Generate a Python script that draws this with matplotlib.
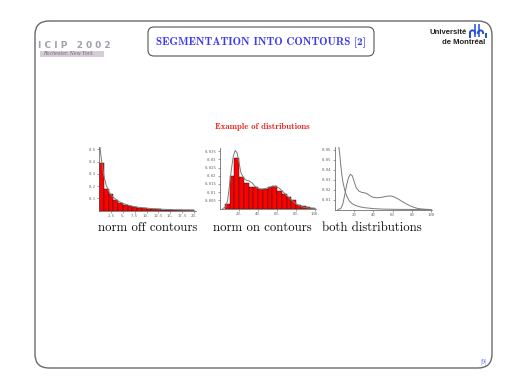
import numpy as np
import matplotlib
matplotlib.use("Agg")
import matplotlib.pyplot as plt
from matplotlib.patches import FancyBboxPatch, Rectangle

# --- data ---
off_edges = list(range(0, 21))
off_heights = [0.39, 0.175, 0.133, 0.09, 0.065, 0.048, 0.036, 0.03, 0.024, 0.02,
               0.016, 0.013, 0.01, 0.008, 0.007, 0.005, 0.004, 0.003, 0.003, 0.002]
off_curve_x = [0.2, 0.5, 1, 1.5, 2, 2.5, 3, 4, 5, 6, 7, 8, 9, 10, 12, 14, 16, 18, 20]
off_curve_y = [0.52, 0.42, 0.29, 0.21, 0.16, 0.13, 0.108, 0.078, 0.058, 0.045,
               0.035, 0.028, 0.023, 0.019, 0.013, 0.009, 0.006, 0.004, 0.003]

on_edges = list(range(5, 101, 5))
on_heights = [0.003, 0.0198, 0.031, 0.0195, 0.0155, 0.013, 0.013, 0.012, 0.0117, 0.013,
              0.0136, 0.011, 0.0086, 0.007, 0.0049, 0.0024, 0.0014, 0.0008, 0.0004]
on_curve_x = [3, 6, 8, 10, 12, 14, 16, 18, 20, 22, 25, 28, 31, 34, 37, 40, 44, 48,
              52, 56, 59, 62, 66, 70, 74, 78, 82, 86, 90, 95, 100]
on_curve_y = [0.0, 0.001, 0.005, 0.014, 0.024, 0.032, 0.0355, 0.034, 0.028, 0.022,
              0.0185, 0.0172, 0.0168, 0.0155, 0.0135, 0.0122, 0.0118, 0.0122, 0.013,
              0.0136, 0.0135, 0.0125, 0.0105, 0.008, 0.0058, 0.0038, 0.0022, 0.0011,
              0.0005, 0.0002, 0.0]

both_off_x = [2.5, 4, 5, 6, 7, 8, 10, 12, 15, 18, 22, 26, 30, 40, 50, 70, 100]
both_off_y = [0.07, 0.063, 0.055, 0.045, 0.036, 0.029, 0.02, 0.014, 0.0085, 0.0058,
              0.0038, 0.0027, 0.0019, 0.0009, 0.0004, 0.0001, 0.0]

off_xticks = [2.5, 5, 7.5, 10, 12.5, 15, 17.5, 20]
off_xlabels = ['2.5', '5.', '7.5', '10.', '12.5', '15.', '17.5', '20.']
off_yticks = [0.1, 0.2, 0.3, 0.4, 0.5]
off_ylabels = ['0.1', '0.2', '0.3', '0.4', '0.5']
on_xticks = [20, 40, 60, 80, 100]
on_xlabels = ['20.', '40.', '60.', '80.', '100.']
on_yticks = [0.005, 0.01, 0.015, 0.02, 0.025, 0.03, 0.035]
on_ylabels = ['0.005', '0.01', '0.015', '0.02', '0.025', '0.03', '0.035']
both_xticks = [20, 40, 60, 80, 100]
both_xlabels = ['20', '40', '60', '80', '100']
both_yticks = [0.01, 0.02, 0.03, 0.04, 0.05, 0.06]
both_ylabels = ['0.01', '0.02', '0.03', '0.04', '0.05', '0.06']

captions = ['norm off contours', 'norm on contours', 'both distributions']

W, H = 525, 390
fig = plt.figure(figsize=(W / 100, H / 100), dpi=100)

# slide decorations in pixel coordinates
bg = fig.add_axes([0, 0, 1, 1])
bg.set_xlim(0, W)
bg.set_ylim(H, 0)
bg.axis('off')
bg.add_patch(FancyBboxPatch((35 + 14, 21 + 14), 457 - 28, 347 - 28,
                            boxstyle="round,pad=14", fc='none', ec='#6a6a6a', lw=1.0))
bg.add_patch(FancyBboxPatch((148 + 6, 27 + 6), 226 - 12, 29 - 12,
                            boxstyle="round,pad=6", fc='none', ec='#555555', lw=0.8))
bg.text(261, 42, 'SEGMENTATION INTO CONTOURS [2]', ha='center', va='center',
        family='cmb10', fontsize=8.0, color='#3a3af0')
bg.text(262, 127, 'Example of distributions', ha='center', va='center',
        family='cmb10', fontsize=6.3, color='#e8201c')
bg.text(484, 362, '[9]', ha='center', va='center', family='cmr10',
        fontsize=4.5, color='#4040f0')

# ICIP logo (approximation)
bg.add_patch(Rectangle((40, 50.5), 64, 6, fc='#d4cdd6', ec='none'))
bg.text(38, 45, 'I C I P   2 0 0 2', ha='left', va='center', family='DejaVu Sans',
        fontsize=6.4, color='#a49bad', fontweight='bold')
bg.text(43, 53.6, 'Rochester, New York', ha='left', va='center', family='DejaVu Serif',
        fontsize=3.4, color='#6d6677', style='italic')

# Universite de Montreal logo (approximation)
bg.text(467, 33, 'Université', ha='right', va='center', family='Liberation Sans',
        fontsize=5.6, fontweight='bold', color='#222222')
bg.text(485, 42, 'de Montréal', ha='right', va='center', family='Liberation Sans',
        fontsize=5.6, fontweight='bold', color='#222222')
blue = '#1f4fd8'
for xs in (474.5, 478.5):
    bg.plot([xs, xs], [24, 37], color=blue, lw=1.1, solid_capstyle='butt')
t = np.linspace(np.pi, 0, 20)
for cx in (472.5, 480.5):
    bg.plot(cx + 2.6 * np.cos(t), 33 - 2.6 * np.sin(t), color=blue, lw=1.4)
for xs in (470, 486):
    bg.plot([xs, xs], [33, 37.5], color=blue, lw=1.4, solid_capstyle='butt')


def style_axes(ax, xticks, xlabels, yticks, ylabels):
    for side in ('top', 'right'):
        ax.spines[side].set_visible(False)
    for side in ('left', 'bottom'):
        ax.spines[side].set_color('#555555')
        ax.spines[side].set_linewidth(0.5)
    ax.set_facecolor('none')
    ax.set_xticks(xticks)
    ax.set_xticklabels(xlabels)
    ax.set_yticks(yticks)
    ax.set_yticklabels(ylabels)
    ax.tick_params(length=1.2, width=0.4, color='#555555', pad=1.2,
                   labelsize=2.8, labelcolor='#666666')
    for lab in ax.get_xticklabels() + ax.get_yticklabels():
        lab.set_family('DejaVu Sans Mono')


def px_axes(left, right, bottom, top):
    return fig.add_axes([left / W, 1 - bottom / H, (right - left) / W, (bottom - top) / H])


# norm off contours
ax1 = px_axes(99, 196, 210.5, 147)
ax1.bar(off_edges[:-1], off_heights, width=np.diff(off_edges), align='edge',
        color='#ff0000', edgecolor='#222222', linewidth=0.35)
ax1.plot(off_curve_x, off_curve_y, color='#7a7a7a', lw=0.7)
ax1.set_xlim(0, 20.4)
ax1.set_ylim(0, 0.52)
style_axes(ax1, off_xticks, off_xlabels, off_yticks, off_ylabels)

# norm on contours
ax2 = px_axes(220, 316, 208.5, 148)
ax2.bar(on_edges[:-1], on_heights, width=np.diff(on_edges), align='edge',
        color='#ff0000', edgecolor='#222222', linewidth=0.35)
ax2.plot(on_curve_x, on_curve_y, color='#7a7a7a', lw=0.7)
ax2.set_xlim(0, 101)
ax2.set_ylim(0, 0.037)
style_axes(ax2, on_xticks, on_xlabels, on_yticks, on_ylabels)

# both distributions
ax3 = px_axes(335, 432, 209.5, 147)
ax3.plot(both_off_x, both_off_y, color='#7a7a7a', lw=0.7)
ax3.plot(on_curve_x, on_curve_y, color='#7a7a7a', lw=0.7)
ax3.set_xlim(0, 101)
ax3.set_ylim(0, 0.063)
style_axes(ax3, both_xticks, both_xlabels, both_yticks, both_ylabels)

for cx, text in zip((148, 262, 372), captions):
    bg.text(cx, 228, text, ha='center', va='center', family='cmr10',
            fontsize=9.2, color='#111111')

fig.savefig('out.png', dpi=100)
